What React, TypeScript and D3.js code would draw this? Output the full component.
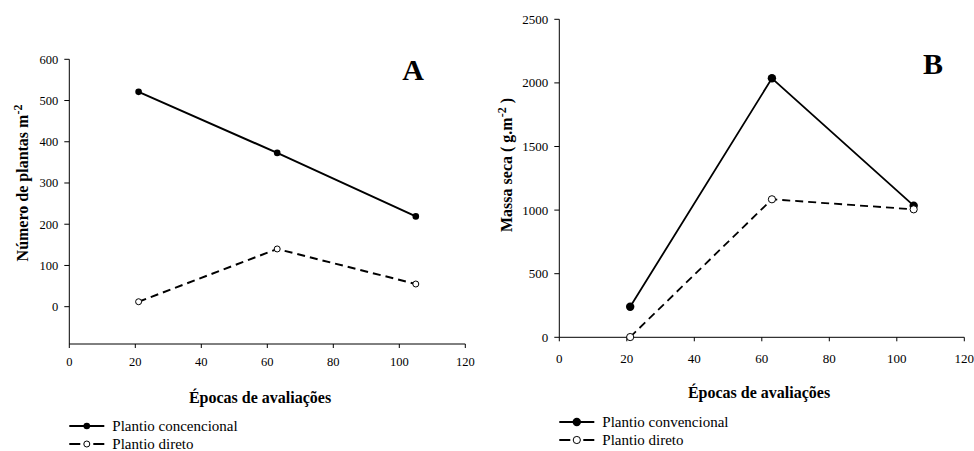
import React from "react";
import * as d3 from "d3";

// Evaluation times (days)
const epocas = [21, 63, 105];

// Panel A: number of plants per m²
const plantasConvencional = [521, 373, 219];
const plantasDireto = [12, 140, 55];

// Panel B: dry mass (g.m⁻²)
const massaConvencional = [240, 2036, 1035];
const massaDireto = [2, 1085, 1006];

const xTicks = [0, 20, 40, 60, 80, 100, 120];
const yTicksA = [0, 100, 200, 300, 400, 500, 600];
const yTicksB = [0, 500, 1000, 1500, 2000, 2500];

const FONT = "Liberation Serif";

type PanelProps = {
  x0: number;
  x1: number;
  yTop: number;
  yBottom: number;
  yDomain: [number, number];
  yTicks: number[];
  conv: number[];
  direto: number[];
  letter: string;
  letterPos: [number, number];
  yTitle: React.ReactNode;
  yTitlePos: [number, number];
  xTitlePos: [number, number];
  tickFont: number;
  xLabelOffset: number;
  legendY: number;
  legendConv: string;
  rFilled: number;
  rOpen: number;
  lineW: number;
};

function Panel(p: PanelProps) {
  const x = d3.scaleLinear().domain([0, 120]).range([p.x0, p.x1]);
  const y = d3.scaleLinear().domain(p.yDomain).range([p.yBottom, p.yTop]);
  const line = d3
    .line<number>()
    .x((_, i) => x(epocas[i]))
    .y((d) => y(d));
  const axisY = p.yBottom;
  const lx0 = p.x0;
  const lx1 = p.x0 + 35;
  const lmid = (lx0 + lx1) / 2;
  const tf = { fontFamily: FONT };
  return (
    <g>
      {/* axes */}
      <line x1={p.x0} x2={p.x0} y1={p.yTop} y2={axisY} stroke="#000" strokeWidth={1} />
      <line x1={p.x0} x2={p.x1} y1={axisY} y2={axisY} stroke="#000" strokeWidth={1} />
      {p.yTicks.map((t) => (
        <g key={"y" + t}>
          <line x1={p.x0 - 5} x2={p.x0} y1={y(t)} y2={y(t)} stroke="#000" />
          <text x={p.x0 - 11} y={y(t)} dy="0.35em" textAnchor="end" fontSize={p.tickFont} style={tf}>
            {t}
          </text>
        </g>
      ))}
      {xTicks.map((t) => (
        <g key={"x" + t}>
          <line x1={x(t)} x2={x(t)} y1={axisY} y2={axisY + 4} stroke="#000" />
          <text
            x={x(t)}
            y={axisY + p.xLabelOffset}
            textAnchor="middle"
            fontSize={p.tickFont}
            style={tf}
          >
            {t}
          </text>
        </g>
      ))}
      {/* series */}
      <path d={line(p.conv) || ""} fill="none" stroke="#000" strokeWidth={p.lineW} />
      <path
        d={line(p.direto) || ""}
        fill="none"
        stroke="#000"
        strokeWidth={p.lineW}
        strokeDasharray="8,5"
      />
      {p.conv.map((v, i) => (
        <circle key={"c" + i} cx={x(epocas[i])} cy={y(v)} r={p.rFilled} fill="#000" />
      ))}
      {p.direto.map((v, i) => (
        <circle
          key={"d" + i}
          cx={x(epocas[i])}
          cy={y(v)}
          r={p.rOpen}
          fill="#fff"
          stroke="#000"
          strokeWidth={1}
        />
      ))}
      {/* panel letter */}
      <text
        x={p.letterPos[0]}
        y={p.letterPos[1]}
        textAnchor="middle"
        fontSize={30}
        fontWeight="bold"
        style={tf}
      >
        {p.letter}
      </text>
      {/* titles */}
      <text
        transform={`translate(${p.yTitlePos[0]},${p.yTitlePos[1]}) rotate(-90)`}
        textAnchor="middle"
        fontSize={16}
        fontWeight="bold"
        style={tf}
      >
        {p.yTitle}
      </text>
      <text
        x={p.xTitlePos[0]}
        y={p.xTitlePos[1]}
        textAnchor="middle"
        fontSize={16}
        fontWeight="bold"
        style={tf}
      >
        Épocas de avaliações
      </text>
      {/* legend */}
      <g>
        <line x1={lx0} x2={lx1} y1={p.legendY} y2={p.legendY} stroke="#000" strokeWidth={2.2} />
        <circle cx={lmid} cy={p.legendY} r={p.rFilled} fill="#000" />
        <text x={lx1 + 8} y={p.legendY} dy="0.33em" fontSize={15} style={tf}>
          {p.legendConv}
        </text>
        <line
          x1={lx0}
          x2={lx1}
          y1={p.legendY + 18}
          y2={p.legendY + 18}
          stroke="#000"
          strokeWidth={2.2}
          strokeDasharray="11,13"
        />
        <circle cx={lmid} cy={p.legendY + 18} r={p.rOpen} fill="#fff" stroke="#000" />
        <text x={lx1 + 8} y={p.legendY + 18} dy="0.33em" fontSize={15} style={tf}>
          Plantio direto
        </text>
      </g>
    </g>
  );
}

export default function App() {
  return (
    <svg
      width={974}
      height={451}
      style={{ position: "absolute", left: 0, top: 0, background: "#fff" }}
    >
      <Panel
        x0={69.3}
        x1={465.3}
        yTop={59.3}
        yBottom={344}
        yDomain={[-90.5, 600]}
        yTicks={yTicksA}
        conv={plantasConvencional}
        direto={plantasDireto}
        letter="A"
        letterPos={[413, 80]}
        yTitle={
          <>
            Número de plantas m<tspan dy={-6} fontSize={12}>-2</tspan>
          </>
        }
        yTitlePos={[28, 183]}
        xTitlePos={[260, 403]}
        tickFont={12.5}
        xLabelOffset={22}
        legendY={426}
        legendConv="Plantio concencional"
        rFilled={3.3}
        rOpen={3}
        lineW={2}
      />
      <Panel
        x0={559.3}
        x1={964.3}
        yTop={19.3}
        yBottom={337.3}
        yDomain={[0, 2500]}
        yTicks={yTicksB}
        conv={massaConvencional}
        direto={massaDireto}
        letter="B"
        letterPos={[933, 74]}
        yTitle={
          <>
            Massa seca ( g.m<tspan dy={-6} fontSize={12}>-2</tspan>
            <tspan dy={6}> )</tspan>
          </>
        }
        yTitlePos={[512, 165]}
        xTitlePos={[759, 398]}
        tickFont={13}
        xLabelOffset={25.5}
        legendY={422}
        legendConv="Plantio convencional"
        rFilled={4.2}
        rOpen={3.6}
        lineW={1.8}
      />
    </svg>
  );
}
